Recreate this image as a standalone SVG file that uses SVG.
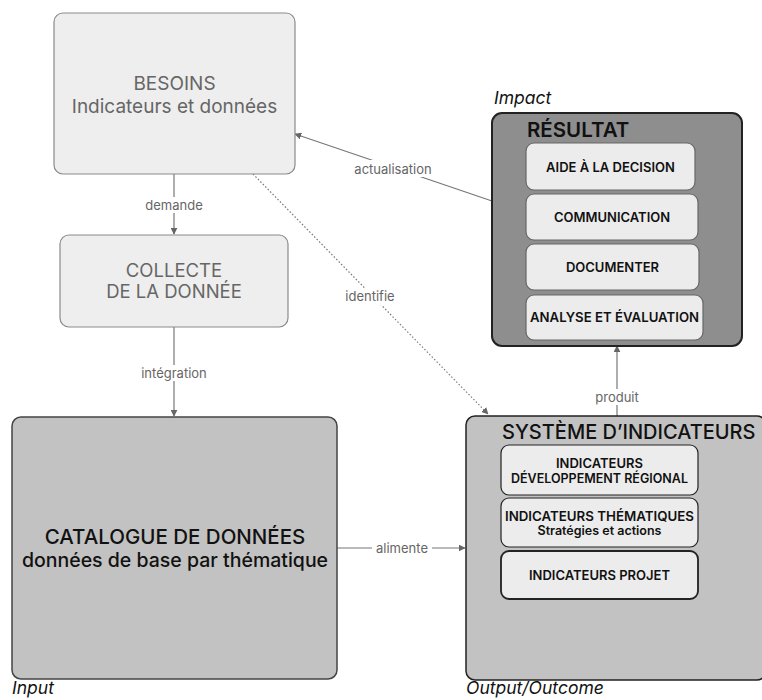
<svg xmlns="http://www.w3.org/2000/svg" width="762" height="700" viewBox="0 0 762 700">
<defs>
<style>
text{font-family:Inter,"Noto Sans","Liberation Sans",sans-serif;text-anchor:middle;dominant-baseline:central}
.light{fill:#eeeeee;stroke:#8a8a8a;stroke-width:1.2}
.mid{fill:#c2c2c2;stroke:#444;stroke-width:1.5}
.dark{fill:#8e8e8e;stroke:#222;stroke-width:2}
.sub{fill:#ececec;stroke:#222;stroke-width:1.2}
.lt{fill:#666;font-size:19px}
.big{fill:#111;font-size:21px;font-weight:500}
.st{fill:#111;font-size:13px;font-weight:600}
.lab{fill:#666;font-size:13px}
.cap{fill:#111;font-size:17.5px;font-style:italic;text-anchor:start;dominant-baseline:auto}
.con{stroke:#777;stroke-width:1.2;fill:none}
</style>
<marker id="ah" viewBox="0 0 10 10" refX="9" refY="5" markerWidth="7" markerHeight="7" orient="auto" markerUnits="userSpaceOnUse">
<path d="M0,0 L10,5 L0,10 z" fill="#666"/>
</marker>
</defs>
<rect width="762" height="700" fill="#fff"/>
<g id="connectors">
<line class="con" x1="174" y1="174" x2="174" y2="234" marker-end="url(#ah)"/>
<rect x="142" y="197" width="64" height="16" fill="#fff"/>
<text class="lab" x="174" y="205">demande</text>
<line class="con" x1="174" y1="327" x2="174" y2="416" marker-end="url(#ah)"/>
<rect x="137" y="365" width="74" height="16" fill="#fff"/>
<text class="lab" x="174" y="373">intégration</text>
<line class="con" x1="337" y1="548" x2="465" y2="548" marker-end="url(#ah)"/>
<rect x="372" y="540" width="60" height="16" fill="#fff"/>
<text class="lab" x="402" y="548">alimente</text>
<line class="con" x1="617" y1="416" x2="617" y2="346" marker-end="url(#ah)"/>
<rect x="589" y="389" width="56" height="16" fill="#fff"/>
<text class="lab" x="617" y="397">produit</text>
<line class="con" x1="492" y1="201" x2="295" y2="134" marker-end="url(#ah)"/>
<rect x="350" y="160" width="86" height="17" fill="#fff"/>
<text class="lab" x="393" y="169">actualisation</text>
<line class="con" x1="253" y1="174" x2="488" y2="414" stroke-dasharray="1.5,2" marker-end="url(#ah)"/>
<rect x="340" y="288" width="60" height="17" fill="#fff"/>
<text class="lab" x="370" y="296">identifie</text>
</g>
<g id="besoins">
<rect class="light" x="54" y="13" width="241" height="161" rx="9"/>
<text class="lt" x="174.5" y="83">BESOINS</text>
<text class="lt" x="174.5" y="106">Indicateurs et données</text>
</g>
<g id="collecte">
<rect class="light" x="60" y="235" width="228" height="92" rx="9"/>
<text class="lt" x="174" y="270" style="font-size:18.5px">COLLECTE</text>
<text class="lt" x="174" y="291" style="font-size:18.5px">DE LA DONNÉE</text>
</g>
<g id="catalogue">
<rect class="mid" x="12" y="417" width="325" height="262" rx="9"/>
<text class="big" x="175" y="536" style="font-size:20.5px">CATALOGUE DE DONNÉES</text>
<text class="big" x="175" y="560" style="font-size:19.5px">données de base par thématique</text>
<text class="cap" x="12" y="694">Input</text>
</g>
<g id="systeme">
<rect class="mid" x="466" y="416" width="300" height="264" rx="9" style="stroke:#222"/>
<text class="big" x="502" y="432" style="font-size:20px;text-anchor:start">SYSTÈME D’INDICATEURS</text>
<rect class="sub" x="501" y="445" width="197" height="50" rx="8"/>
<text class="st" x="599.5" y="463">INDICATEURS</text>
<text class="st" x="599.5" y="478" style="font-size:12.5px">DÉVELOPPEMENT RÉGIONAL</text>
<rect class="sub" x="501" y="498" width="197" height="49" rx="8"/>
<text class="st" x="599.5" y="516" style="font-size:13.3px">INDICATEURS THÉMATIQUES</text>
<text class="st" x="599.5" y="530" style="font-size:12.5px">Stratégies et actions</text>
<rect class="sub" x="501" y="551" width="197" height="48" rx="8" style="stroke-width:1.8"/>
<text class="st" x="599.5" y="575">INDICATEURS PROJET</text>
<text class="cap" x="466" y="694">Output/Outcome</text>
</g>
<g id="resultat">
<rect class="dark" x="492" y="113" width="250" height="233" rx="10"/>
<text class="big" x="527" y="129" style="text-anchor:start;font-size:20.5px;font-weight:600">RÉSULTAT</text>
<rect class="sub" x="526" y="143" width="169" height="47" rx="8" style="stroke:#666"/>
<text class="st" x="610.5" y="167">AIDE À LA DECISION</text>
<rect class="sub" x="526" y="194" width="172" height="46" rx="8" style="stroke:#666"/>
<text class="st" x="612" y="217">COMMUNICATION</text>
<rect class="sub" x="526" y="244" width="173" height="46" rx="8" style="stroke:#666"/>
<text class="st" x="612.5" y="267">DOCUMENTER</text>
<rect class="sub" x="526" y="295" width="177" height="45" rx="8" style="stroke:#666"/>
<text class="st" x="614.5" y="317" style="font-size:13.2px">ANALYSE ET ÉVALUATION</text>
<text class="cap" x="494" y="104">Impact</text>
</g>
</svg>
